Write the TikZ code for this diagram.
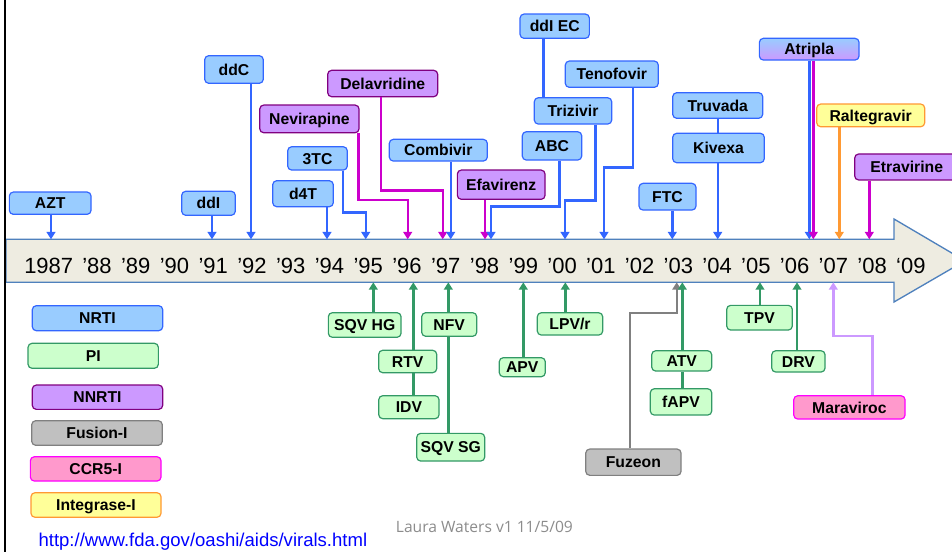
\documentclass[tikz,border=0pt]{standalone}
\usepackage{fontspec}
\setmainfont{Liberation Sans}
\newfontfamily\lwfont{Open Sans}
\usetikzlibrary{arrows.meta,calc}
\definecolor{nrtiF}{HTML}{99CCFF}
\definecolor{nrtiD}{HTML}{3366FF}
\definecolor{piF}{HTML}{CCFFCC}
\definecolor{piD}{HTML}{339966}
\definecolor{nnF}{HTML}{CC99FF}
\definecolor{nnD}{HTML}{800080}
\definecolor{nnL}{HTML}{CC00CC}
\definecolor{fuF}{HTML}{C0C0C0}
\definecolor{fuD}{HTML}{808080}
\definecolor{ccF}{HTML}{FF99CC}
\definecolor{ccD}{HTML}{FF00FF}
\definecolor{ccL}{HTML}{CC99FF}
\definecolor{inF}{HTML}{FFFF99}
\definecolor{inD}{HTML}{FF9933}
\definecolor{bandF}{HTML}{EEECE1}
\definecolor{bandD}{HTML}{4F81BD}
\definecolor{urlC}{HTML}{0000FF}
\definecolor{lwC}{HTML}{8C8C8C}
\tikzset{
  box/.style={rounded corners=3pt, line width=0.9pt, inner sep=0pt,
    font=\fontsize{11.8}{13}\selectfont\bfseries, text height=8.45pt, text depth=0pt},
  sz/.style 2 args={minimum width=#1*0.75pt, minimum height=#2*0.75pt},
  nrti/.style={box, fill=nrtiF, draw=nrtiD},
  pi/.style={box, fill=piF, draw=piD},
  nnrti/.style={box, fill=nnF, draw=nnD},
  fus/.style={box, fill=fuF, draw=fuD},
  ccr/.style={box, fill=ccF, draw=ccD},
  integ/.style={box, fill=inF, draw=inD},
  con/.style={line width=1.8pt, -{Triangle[length=5.5pt,width=6.5pt]}},
  lnk/.style={line width=1.8pt},
  yr/.style={anchor=base west, inner sep=0pt, font=\fontsize{16.5}{18}\selectfont},
}
\begin{document}
\begin{tikzpicture}[x=0.75pt,y=-0.75pt]
\useasboundingbox (0,0) rectangle (952,552);
\clip (0,0) rectangle (952,552);
\fill[white] (0,0) rectangle (952,552);

% timeline band arrow
\draw[fill=bandF, draw=bandD, line width=1pt]
  (6,239.3) -- (894,239.3) -- (894,219) -- (965,260.8) -- (894,302) -- (894,282.3) -- (6,282.3) -- cycle;
\draw[black, line width=1.6pt] (5,0) -- (5,552);

% years
\node[yr] (y87) at (24,273.3) {1987};
\foreach \t [count=\i from 0] in {’88,’89,’90,’91,’92,’93,’94,’95,’96,’97,’98,’99,’00,’01,’02,’03,’04,’05,’06,’07,’08,‘09}
  \node[yr] (y\i) at ({82+38.76*\i},273.3) {\t};

% arrow targets on the band
\coordinate (T87) at (51,239.3);
\coordinate (T91) at (212,239.3);
\coordinate (T92) at (251,239.3);
\coordinate (T94) at (327,239.3);
\coordinate (T95) at (365.7,239.3);
\coordinate (T96) at (407.7,239.3);
\coordinate (T97a) at (442.7,239.3);
\coordinate (T97b) at (450.7,239.3);
\coordinate (T98a) at (485,239.3);
\coordinate (T98b) at (491,239.3);
\coordinate (T00) at (565,239.3);
\coordinate (T01) at (604,239.3);
\coordinate (T03) at (672.3,239.3);
\coordinate (T04) at (717.7,239.3);
\coordinate (T06a) at (809.3,239.3);
\coordinate (T06b) at (813.3,239.3);
\coordinate (T07) at (839.3,239.3);
\coordinate (T08) at (869.3,239.3);

\coordinate (B95) at (373.3,282.3);
\coordinate (B96) at (413.3,282.3);
\coordinate (B97) at (448.3,282.3);
\coordinate (B99) at (523.3,282.3);
\coordinate (B00) at (565.3,282.3);
\coordinate (B03a) at (676.7,282.3);
\coordinate (B03b) at (682.3,282.3);
\coordinate (B05) at (760,282.3);
\coordinate (B06) at (797,282.3);
\coordinate (B07) at (833.3,282.3);

% top boxes
\node[nrti, sz={81.7}{22.3}] (azt) at (50.2,203.2) {AZT};
\node[nrti, sz={53.6}{24}] (ddi) at (208.5,203.3) {ddI};
\node[nrti, sz={58.6}{27.6}] (ddc) at (234,69.5) {ddC};
\node[nnrti, sz={99.3}{27.7}] (nev) at (309.4,118.9) {Nevirapine};
\node[nrti, sz={59.6}{23.3}] (tc) at (317.5,158.4) {3TC};
\node[nrti, sz={60.6}{26}] (dft) at (303,193.7) {d4T};
\node[nnrti, sz={110}{26.4}] (dela) at (382.7,83.5) {Delavridine};
\node[nrti, sz={98}{21.7}] (comb) at (438.3,150.2) {Combivir};
\node[nnrti, sz={87.7}{29.3}] (efa) at (501.2,184.7) {Efavirenz};
\node[nrti, sz={69.3}{24.3}] (ddiec) at (554.7,26.2) {ddI EC};
\node[nrti, sz={77.4}{26.3}] (triz) at (573,110.9) {Trizivir};
\node[nrti, sz={59.4}{28.3}] (abc) at (552,145.9) {ABC};
\node[nrti, sz={93}{26.3}] (teno) at (611.8,74.2) {Tenofovir};
\node[nrti, sz={57}{26.7}] (ftc) at (667.5,196.7) {FTC};
\node[nrti, sz={90}{25.6}] (truv) at (717.7,105.5) {Truvada};
\node[nrti, sz={91.6}{29.4}] (kiv) at (718.5,148) {Kivexa};
\node[box, draw=nrtiD, top color=nrtiF, bottom color=nnF, sz={99.7}{21.7}] (atr) at (809.2,49.2) {Atripla};
\node[integ, sz={108}{22.7}] (ralt) at (870.7,115.4) {Raltegravir};
\node[nnrti, sz={104}{26}] (etra) at (906.7,167) {Etravirine};

% bottom boxes
\node[pi, sz={72.7}{24.6}] (sqvhg) at (364.7,325) {SQV HG};
\node[pi, sz={58}{22.4}] (rtv) at (407.7,361.5) {RTV};
\node[pi, sz={60.3}{23}] (idv) at (408.9,407.2) {IDV};
\node[pi, sz={55}{23.6}] (nfv) at (449.2,324.5) {NFV};
\node[pi, sz={68}{27.7}] (sqvsg) at (450.7,447.2) {SQV SG};
\node[pi, sz={46}{19}] (apv) at (522.3,367.2) {APV};
\node[pi, sz={65.4}{22.3}] (lpv) at (570,323.9) {LPV/r};
\node[fus, sz={95.3}{26.3}] (fuz) at (633.4,462.2) {Fuzeon};
\node[pi, sz={60}{20.3}] (atv) at (681.7,360.9) {ATV};
\node[pi, sz={61.4}{26.3}] (fapv) at (681,401.9) {fAPV};
\node[pi, sz={65.6}{24.7}] (tpv) at (759.5,317.7) {TPV};
\node[pi, sz={53.3}{21.3}] (drv) at (798.4,361.4) {DRV};
\node[ccr, sz={111.3}{23.3}] (mara) at (849.4,407.4) {Maraviroc};

% legend
\node[nrti, sz={130.4}{25}] (lg1) at (97.5,318.2) {NRTI};
\node[pi, sz={130.3}{25}] (lg2) at (93.2,355.8) {PI};
\node[nnrti, sz={130.4}{24.3}] (lg3) at (97.5,397.2) {NNRTI};
\node[fus, sz={130.6}{24.6}] (lg4) at (97,433) {Fusion-I};
\node[ccr, sz={130.7}{24.3}] (lg5) at (95.7,468.9) {CCR5-I};
\node[integ, sz={130}{24.6}] (lg6) at (96,505) {Integrase-I};

\node[anchor=base west, inner sep=0pt, text=urlC, font=\fontsize{13.9}{16}\selectfont] (url) at (38.3,546.7) {\underline{http://www.fda.gov/oashi/aids/virals.html}};
\node[anchor=base west, inner sep=0pt, text=lwC, font=\lwfont\fontsize{11.7}{14}\selectfont] (lw) at (395.7,532.3) {Laura Waters v1 11/5/09};

% top connectors
\draw[con, color=nrtiD] (T87 |- azt.south) -- (T87);
\draw[con, color=nrtiD] (T91 |- ddi.south) -- (T91);
\draw[con, color=nrtiD] (T92 |- ddc.south) -- (T92);
\draw[con, color=nrtiD] (T94 |- dft.south) -- (T94);
\draw[con, color=nrtiD] ($(tc.south)+(25.2,0)$) -- ++(0,41.7) -| (T95);
\draw[con, color=nnL] ($(nev.south)+(48.9,0)$) -- ++(0,66.6) -| (T96);
\draw[con, color=nnL] ($(dela.south)+(-1.7,0)$) -- ++(0,93.3) -| (T97a);
\draw[con, color=nrtiD] (T97b |- comb.south) -- (T97b);
\draw[con, color=nnL] (T98a |- efa.south) -- (T98a);
\draw[con, color=nrtiD] ($(abc.south)+(7.3,0)$) -- ++(0,46) -| (T98b);
\coordinate (e1) at ($(ddiec.south)+(-11.4,0)$);
\draw[lnk, color=nrtiD] (e1) -- (e1 |- triz.north);
\draw[con, color=nrtiD] ($(triz.south)+(22.3,0)$) -- ++(0,76) -| (T00);
\draw[con, color=nrtiD] ($(teno.south)+(20.9,0)$) -- ++(0,79.4) -| (T01);
\draw[con, color=nrtiD] (T03 |- ftc.south) -- (T03);
\draw[lnk, color=nrtiD] (T04 |- truv.south) -- (T04 |- kiv.north);
\draw[con, color=nrtiD] (T04 |- kiv.south) -- (T04);
\draw[con, color=nrtiD] (T06a |- atr.south) -- (T06a);
\draw[con, color=nnL] (T06b |- atr.south) -- (T06b);
\draw[con, color=inD] (T07 |- ralt.south) -- (T07);
\draw[con, color=nnL] (T08 |- etra.south) -- (T08);

% bottom connectors
\draw[con, color=piD] (B95 |- sqvhg.north) -- (B95);
\draw[con, color=piD] (B96 |- rtv.north) -- (B96);
\draw[lnk, color=piD] (B96 |- idv.north) -- (B96 |- rtv.south);
\draw[con, color=piD] (B97 |- nfv.north) -- (B97);
\draw[lnk, color=piD] (B97 |- sqvsg.north) -- (B97 |- nfv.south);
\draw[con, color=piD] (B99 |- apv.north) -- (B99);
\draw[con, color=piD] (B00 |- lpv.north) -- (B00);
\draw[con, color=fuD] ($(fuz.north)+(-3.4,0)$) -- ++(0,-135.7) -| (B03a);
\draw[con, color=piD] (B03b |- atv.north) -- (B03b);
\draw[lnk, color=piD] (B03b |- fapv.north) -- (B03b |- atv.south);
\draw[con, color=piD] (B05 |- tpv.north) -- (B05);
\draw[con, color=piD] (B06 |- drv.north) -- (B06);
\draw[con, color=ccL] ($(mara.north)+(22.9,0)$) -- ++(0,-59) -| (B07);
\end{tikzpicture}
\end{document}
